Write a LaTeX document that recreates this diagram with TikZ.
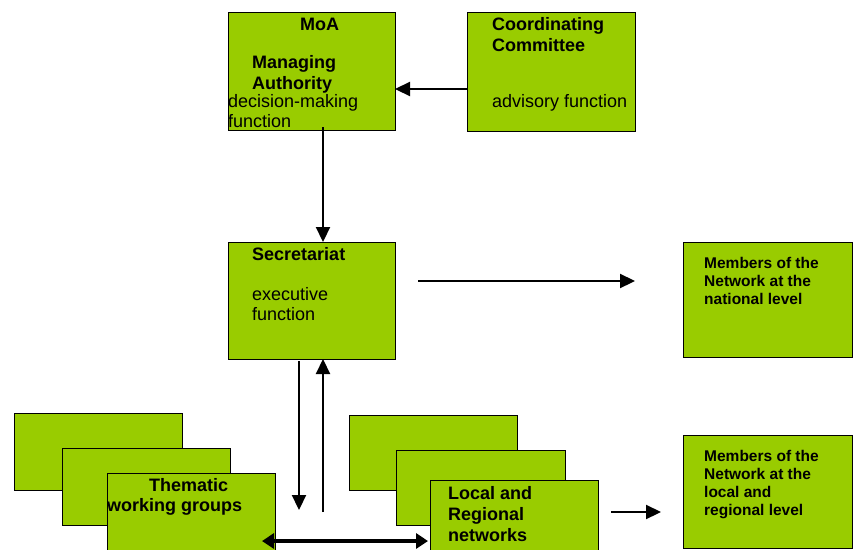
\documentclass[tikz,border=0pt]{standalone}
\usepackage{fontspec}
\setmainfont{Liberation Sans}
\usetikzlibrary{arrows.meta}
\definecolor{boxgreen}{HTML}{99CC00}
\begin{document}
\begin{tikzpicture}[x=1pt,y=-1pt,
 box/.style={draw=black,line width=0.9pt,fill=boxgreen,inner sep=0pt,outer sep=0pt},
 arr/.style={line width=2.2pt,-{Triangle[length=15pt,width=14pt]}},
 dbl/.style={line width=3.2pt,{Triangle[length=12pt,width=15pt]}-{Triangle[length=12pt,width=15pt]}},
 txt/.style={anchor=base west,inner sep=0pt,font=\fontsize{18}{21}\selectfont},
 btxt/.style={anchor=base west,inner sep=0pt,font=\fontsize{18}{21}\selectfont\bfseries},
 stxt/.style={anchor=base west,inner sep=0pt,font=\fontsize{15.5}{18}\selectfont\bfseries},
]
\useasboundingbox (0,0) rectangle (859,549);
\clip (0,0) rectangle (859,549);

% top row
\node[box,minimum width=167pt,minimum height=118pt] (moa) at (311.5,71) {};
\node[box,minimum width=168pt,minimum height=119pt] (cc) at (551,71.5) {};
\node[btxt] (moa1) at (300,30) {MoA};
\node[btxt] (moa2) at (252,68) {Managing};
\node[btxt] (moa3) at (252,89) {Authority};
\node[txt] (moa4) at (228,107) {decision-making};
\node[txt] (moa5) at (228,127) {function};
\node[btxt] (cc1) at (492,30) {Coordinating};
\node[btxt] (cc2) at (492,51) {Committee};
\node[txt] (cc3) at (492,107) {advisory function};

% middle row
\node[box,minimum width=167pt,minimum height=117pt] (sec) at (311.5,300.5) {};
\node[box,minimum width=169pt,minimum height=115pt] (nat) at (767.5,299.5) {};
\node[btxt] (sec1) at (252,260) {Secretariat};
\node[txt] (sec2) at (252,300) {executive};
\node[txt] (sec3) at (252,320) {function};
\node[stxt] (nat1) at (704,268) {Members of the};
\node[stxt] (nat2) at (704,286) {Network at the};
\node[stxt] (nat3) at (704,304) {national level};

% bottom row: thematic working groups
\node[box,minimum width=168pt,minimum height=77pt] (tw1) at (98,451.5) {};
\node[box,minimum width=168pt,minimum height=77pt] (tw2) at (146,486.5) {};
\node[box,minimum width=168pt,minimum height=82pt] (tw3) at (191,514) {};
\node[btxt] (tw3a) at (149,491) {Thematic};
\node[btxt] (tw3b) at (107,511) {working groups};

% local and regional networks
\node[box,minimum width=168pt,minimum height=75pt] (lr1) at (433,452.5) {};
\node[box,minimum width=169pt,minimum height=75pt] (lr2) at (480.5,487.5) {};
\node[box,minimum width=168pt,minimum height=75pt] (lr3) at (514,517.5) {};
\node[btxt] (lr3a) at (448,499) {Local and};
\node[btxt] (lr3b) at (448,520) {Regional};
\node[btxt] (lr3c) at (448,541) {networks};

% members local
\node[box,minimum width=169pt,minimum height=113pt] (loc) at (767.5,491.5) {};
\node[stxt] (loc1) at (704,461) {Members of the};
\node[stxt] (loc2) at (704,479) {Network at the};
\node[stxt] (loc3) at (704,497) {local and};
\node[stxt] (loc4) at (704,515) {regional level};

% connector helpers
\coordinate (xa) at (323,0);
\coordinate (xb) at (299,0);
\coordinate (ya) at (0,89);
\coordinate (s1) at (418,281);
\coordinate (e1) at (635,281);
\coordinate (dEnd) at (299,510);
\coordinate (uStart) at (323,512);
\coordinate (dl) at (262,541);
\coordinate (dr) at (428,541);
\coordinate (s2) at (611,512);
\coordinate (e2) at (661,512);

% connectors
\draw[arr] (cc.west |- ya) -- (moa.east |- ya);
\draw[arr] ([yshift=3pt]moa.south -| xa) -- (sec.north -| xa);
\draw[arr] (s1) -- (e1);
\draw[arr] ([yshift=-2pt]sec.south -| xb) -- (dEnd);
\draw[arr] (uStart) -- (sec.south -| xa);
\draw[dbl] (dl) -- (dr);
\draw[arr] (s2) -- (e2);
\end{tikzpicture}
\end{document}
